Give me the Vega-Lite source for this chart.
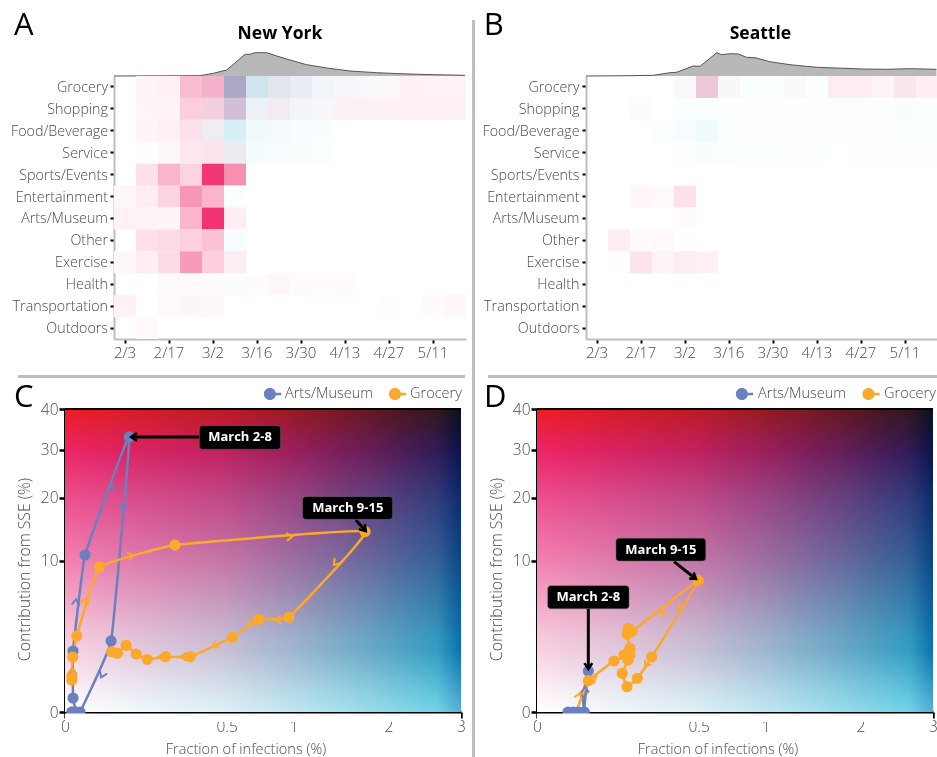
{
"$schema":"https://vega.github.io/schema/vega-lite/v6.json",
"autosize":{"type":"none"},"padding":0,"width":937,"height":757,"background":"#ffffff",
"config":{"view":{"stroke":null},
 "axis":{"labelFont":"Open Sans","titleFont":"Open Sans","labelColor":"#4a4a4a","titleColor":"#4a4a4a","labelFontSize":15,"titleFontSize":14.6,"titleFontWeight":300,"labelFontWeight":300,"grid":false,"zindex":1,"tickColor":"#000000","labelOverlap":false,"labelFlush":false},
 "text":{"font":"Open Sans"}},
"datasets":{
"ny":[
{"place":"Grocery","week":"2/10","sse":0.055,"inf":0},{"place":"Grocery","week":"2/17","sse":0.07,"inf":0},{"place":"Grocery","week":"2/24","sse":0.31,"inf":0},{"place":"Grocery","week":"3/2","sse":0.35,"inf":0.03},{"place":"Grocery","week":"3/9","sse":0.32,"inf":0.38},{"place":"Grocery","week":"3/16","sse":0.065,"inf":0.21},{"place":"Grocery","week":"3/23","sse":0.077,"inf":0.14},{"place":"Grocery","week":"3/30","sse":0.05,"inf":0.1},{"place":"Grocery","week":"4/6","sse":0.03,"inf":0.07},{"place":"Grocery","week":"4/13","sse":0.03,"inf":0.045},{"place":"Grocery","week":"4/20","sse":0.02,"inf":0.03},{"place":"Grocery","week":"4/27","sse":0.03,"inf":0.02},{"place":"Grocery","week":"5/4","sse":0.07,"inf":0},{"place":"Grocery","week":"5/11","sse":0.06,"inf":0},{"place":"Grocery","week":"5/18","sse":0.06,"inf":0},
{"place":"Shopping","week":"2/10","sse":0.04,"inf":0},{"place":"Shopping","week":"2/17","sse":0.055,"inf":0},{"place":"Shopping","week":"2/24","sse":0.23,"inf":0},{"place":"Shopping","week":"3/2","sse":0.21,"inf":0.04},{"place":"Shopping","week":"3/9","sse":0.25,"inf":0.19},{"place":"Shopping","week":"3/16","sse":0.044,"inf":0.09},{"place":"Shopping","week":"3/23","sse":0.08,"inf":0.06},{"place":"Shopping","week":"3/30","sse":0.035,"inf":0.05},{"place":"Shopping","week":"4/6","sse":0.03,"inf":0.04},{"place":"Shopping","week":"4/13","sse":0.06,"inf":0.01},{"place":"Shopping","week":"4/20","sse":0.065,"inf":0},{"place":"Shopping","week":"4/27","sse":0.065,"inf":0},{"place":"Shopping","week":"5/4","sse":0.075,"inf":0},{"place":"Shopping","week":"5/11","sse":0.07,"inf":0},{"place":"Shopping","week":"5/18","sse":0.07,"inf":0},
{"place":"Food/Beverage","week":"2/10","sse":0.045,"inf":0},{"place":"Food/Beverage","week":"2/17","sse":0.07,"inf":0},{"place":"Food/Beverage","week":"2/24","sse":0.14,"inf":0},{"place":"Food/Beverage","week":"3/2","sse":0.07,"inf":0.07},{"place":"Food/Beverage","week":"3/9","sse":0.02,"inf":0.19},{"place":"Food/Beverage","week":"3/16","sse":0.01,"inf":0.07},{"place":"Food/Beverage","week":"3/23","sse":0.005,"inf":0.05},{"place":"Food/Beverage","week":"3/30","sse":0,"inf":0.04},{"place":"Food/Beverage","week":"4/6","sse":0,"inf":0.03},
{"place":"Service","week":"2/10","sse":0.01,"inf":0},{"place":"Service","week":"2/17","sse":0.035,"inf":0},{"place":"Service","week":"2/24","sse":0.11,"inf":0},{"place":"Service","week":"3/2","sse":0.125,"inf":0},{"place":"Service","week":"3/9","sse":0.07,"inf":0.09},{"place":"Service","week":"3/16","sse":0,"inf":0.055},{"place":"Service","week":"3/23","sse":0,"inf":0.04},{"place":"Service","week":"3/30","sse":0,"inf":0.03},{"place":"Service","week":"4/6","sse":0,"inf":0.025},
{"place":"Sports/Events","week":"2/10","sse":0.145,"inf":0},{"place":"Sports/Events","week":"2/17","sse":0.35,"inf":0},{"place":"Sports/Events","week":"2/24","sse":0.2,"inf":0},{"place":"Sports/Events","week":"3/2","sse":0.93,"inf":0},{"place":"Sports/Events","week":"3/9","sse":0.52,"inf":0},
{"place":"Entertainment","week":"2/3","sse":0.035,"inf":0},{"place":"Entertainment","week":"2/10","sse":0.08,"inf":0},{"place":"Entertainment","week":"2/17","sse":0.2,"inf":0},{"place":"Entertainment","week":"2/24","sse":0.49,"inf":0},{"place":"Entertainment","week":"3/2","sse":0.35,"inf":0},{"place":"Entertainment","week":"3/9","sse":0,"inf":0.02},
{"place":"Arts/Museum","week":"2/3","sse":0.06,"inf":0},{"place":"Arts/Museum","week":"2/10","sse":0.055,"inf":0},{"place":"Arts/Museum","week":"2/17","sse":0.045,"inf":0},{"place":"Arts/Museum","week":"2/24","sse":0.35,"inf":0},{"place":"Arts/Museum","week":"3/2","sse":0.95,"inf":0},{"place":"Arts/Museum","week":"3/9","sse":0.08,"inf":0},
{"place":"Other","week":"2/10","sse":0.145,"inf":0},{"place":"Other","week":"2/17","sse":0.17,"inf":0},{"place":"Other","week":"2/24","sse":0.22,"inf":0},{"place":"Other","week":"3/2","sse":0.29,"inf":0},{"place":"Other","week":"3/9","sse":0,"inf":0.04},
{"place":"Exercise","week":"2/3","sse":0.04,"inf":0},{"place":"Exercise","week":"2/10","sse":0.08,"inf":0},{"place":"Exercise","week":"2/17","sse":0.17,"inf":0},{"place":"Exercise","week":"2/24","sse":0.465,"inf":0},{"place":"Exercise","week":"3/2","sse":0.23,"inf":0},{"place":"Exercise","week":"3/9","sse":0.08,"inf":0.02},
{"place":"Health","week":"2/17","sse":0.03,"inf":0},{"place":"Health","week":"2/24","sse":0.03,"inf":0},{"place":"Health","week":"3/2","sse":0.02,"inf":0.005},{"place":"Health","week":"3/9","sse":0,"inf":0.03},{"place":"Health","week":"3/16","sse":0.02,"inf":0},{"place":"Health","week":"3/23","sse":0.035,"inf":0},{"place":"Health","week":"3/30","sse":0.025,"inf":0},{"place":"Health","week":"4/6","sse":0.02,"inf":0},{"place":"Health","week":"4/13","sse":0.025,"inf":0},
{"place":"Transportation","week":"2/3","sse":0.06,"inf":0},{"place":"Transportation","week":"2/17","sse":0.03,"inf":0},{"place":"Transportation","week":"2/24","sse":0.045,"inf":0},{"place":"Transportation","week":"3/2","sse":0.035,"inf":0},{"place":"Transportation","week":"4/27","sse":0.012,"inf":0},{"place":"Transportation","week":"5/11","sse":0.02,"inf":0},{"place":"Transportation","week":"5/18","sse":0.04,"inf":0},
{"place":"Outdoors","week":"2/10","sse":0.03,"inf":0}],
"sea":[
{"place":"Grocery","week":"3/2","sse":0.03,"inf":0.02},{"place":"Grocery","week":"3/9","sse":0.24,"inf":0.08},{"place":"Grocery","week":"3/16","sse":0.03,"inf":0.03},{"place":"Grocery","week":"3/23","sse":0,"inf":0.02},{"place":"Grocery","week":"3/30","sse":0,"inf":0.02},{"place":"Grocery","week":"4/6","sse":0.03,"inf":0.02},{"place":"Grocery","week":"4/13","sse":0,"inf":0.01},{"place":"Grocery","week":"4/20","sse":0.09,"inf":0},{"place":"Grocery","week":"4/27","sse":0.09,"inf":0},{"place":"Grocery","week":"5/4","sse":0.05,"inf":0.01},{"place":"Grocery","week":"5/11","sse":0.11,"inf":0.02},{"place":"Grocery","week":"5/18","sse":0.08,"inf":0},
{"place":"Shopping","week":"2/17","sse":0.025,"inf":0},{"place":"Shopping","week":"3/2","sse":0,"inf":0.02},{"place":"Shopping","week":"3/9","sse":0,"inf":0.025},{"place":"Shopping","week":"3/16","sse":0,"inf":0.015},{"place":"Shopping","week":"3/23","sse":0,"inf":0.015},{"place":"Shopping","week":"3/30","sse":0,"inf":0.015},{"place":"Shopping","week":"4/6","sse":0,"inf":0.015},{"place":"Shopping","week":"4/13","sse":0,"inf":0.015},{"place":"Shopping","week":"4/20","sse":0,"inf":0.015},{"place":"Shopping","week":"4/27","sse":0,"inf":0.015},{"place":"Shopping","week":"5/4","sse":0,"inf":0.015},{"place":"Shopping","week":"5/11","sse":0.01,"inf":0.025},{"place":"Shopping","week":"5/18","sse":0,"inf":0.02},
{"place":"Food/Beverage","week":"2/24","sse":0,"inf":0.02},{"place":"Food/Beverage","week":"3/2","sse":0,"inf":0.04},{"place":"Food/Beverage","week":"3/9","sse":0,"inf":0.07},{"place":"Food/Beverage","week":"3/16","sse":0,"inf":0.02},{"place":"Food/Beverage","week":"3/23","sse":0,"inf":0.015},{"place":"Food/Beverage","week":"3/30","sse":0,"inf":0.015},{"place":"Food/Beverage","week":"4/6","sse":0,"inf":0.015},{"place":"Food/Beverage","week":"4/13","sse":0,"inf":0.015},{"place":"Food/Beverage","week":"4/20","sse":0,"inf":0.015},{"place":"Food/Beverage","week":"4/27","sse":0,"inf":0.015},{"place":"Food/Beverage","week":"5/4","sse":0,"inf":0.015},{"place":"Food/Beverage","week":"5/11","sse":0,"inf":0.025},{"place":"Food/Beverage","week":"5/18","sse":0,"inf":0.025},
{"place":"Service","week":"3/2","sse":0,"inf":0.015},{"place":"Service","week":"3/9","sse":0,"inf":0.035},{"place":"Service","week":"3/16","sse":0,"inf":0.025},{"place":"Service","week":"3/23","sse":0,"inf":0.02},{"place":"Service","week":"3/30","sse":0,"inf":0.02},{"place":"Service","week":"4/6","sse":0,"inf":0.015},{"place":"Service","week":"4/13","sse":0,"inf":0.015},{"place":"Service","week":"4/27","sse":0,"inf":0.015},{"place":"Service","week":"5/4","sse":0,"inf":0.01},{"place":"Service","week":"5/11","sse":0,"inf":0.01},{"place":"Service","week":"5/18","sse":0,"inf":0.01},
{"place":"Entertainment","week":"2/17","sse":0.04,"inf":0},{"place":"Entertainment","week":"2/24","sse":0.03,"inf":0},{"place":"Entertainment","week":"3/2","sse":0.14,"inf":0},
{"place":"Arts/Museum","week":"3/2","sse":0.02,"inf":0},
{"place":"Other","week":"2/10","sse":0.08,"inf":0},{"place":"Other","week":"2/17","sse":0.025,"inf":0},{"place":"Other","week":"2/24","sse":0.03,"inf":0},{"place":"Other","week":"3/2","sse":0,"inf":0.01},
{"place":"Exercise","week":"2/10","sse":0.015,"inf":0},{"place":"Exercise","week":"2/17","sse":0.125,"inf":0},{"place":"Exercise","week":"2/24","sse":0.05,"inf":0},{"place":"Exercise","week":"3/2","sse":0.08,"inf":0.015},{"place":"Exercise","week":"3/9","sse":0.07,"inf":0},
{"place":"Health","week":"3/9","sse":0,"inf":0.005},{"place":"Health","week":"5/11","sse":0,"inf":0.005},{"place":"Health","week":"5/18","sse":0,"inf":0.005}],
"nyCurve":[{"day":-3.5,"value":0},{"day":23.9,"value":0.3},{"day":28.1,"value":2.7},{"day":32.3,"value":6},{"day":34.5,"value":11.7},{"day":38.2,"value":21.7},{"day":39.8,"value":21.7},{"day":41.4,"value":23.3},{"day":45.1,"value":23.3},{"day":48.3,"value":20},{"day":52.5,"value":16},{"day":57.8,"value":11.3},{"day":64.2,"value":8},{"day":71.6,"value":5},{"day":80,"value":3.3},{"day":87.5,"value":2.3},{"day":98.1,"value":1.3},{"day":108.2,"value":0.7}],
"seaCurve":[{"day":-3.5,"value":0},{"day":10.5,"value":0.3},{"day":18,"value":0.7},{"day":23.2,"value":3.3},{"day":25.3,"value":3.7},{"day":30.6,"value":10},{"day":32.8,"value":9.7},{"day":38.1,"value":23.3},{"day":39.7,"value":21.3},{"day":42.3,"value":22.3},{"day":45,"value":22},{"day":47.6,"value":18.7},{"day":50.3,"value":18.3},{"day":55,"value":14.3},{"day":61.4,"value":11.3},{"day":69.9,"value":8.7},{"day":76.2,"value":8},{"day":84.7,"value":7},{"day":92.1,"value":6.7},{"day":99.5,"value":7.3},{"day":108,"value":6.7}],
"nyPath":[
{"series":"Arts/Museum","t":1,"frac":0.00094,"pct":0},{"series":"Arts/Museum","t":2,"frac":0.0023,"pct":0},{"series":"Arts/Museum","t":3,"frac":0.00123,"pct":0.085},{"series":"Arts/Museum","t":4,"frac":0.00123,"pct":1.62},{"series":"Arts/Museum","t":5,"frac":0.0077,"pct":10.74},{"series":"Arts/Museum","t":6,"frac":0.0788,"pct":32.96},{"series":"Arts/Museum","t":7,"frac":0.0407,"pct":2.2},{"series":"Arts/Museum","t":8,"frac":0.0043,"pct":0},{"series":"Arts/Museum","t":9,"frac":0.0023,"pct":0},{"series":"Arts/Museum","t":10,"frac":0.00094,"pct":0},
{"series":"Grocery","t":1,"frac":0.00086,"pct":0.446},{"series":"Grocery","t":2,"frac":0.00086,"pct":0.565},{"series":"Grocery","t":3,"frac":0.00114,"pct":1.318},{"series":"Grocery","t":4,"frac":0.00263,"pct":2.517},{"series":"Grocery","t":5,"frac":0.0226,"pct":9.16},{"series":"Grocery","t":6,"frac":0.2315,"pct":12.16},{"series":"Grocery","t":7,"frac":1.723,"pct":14.17},{"series":"Grocery","t":8,"frac":0.959,"pct":3.91},{"series":"Grocery","t":9,"frac":0.7165,"pct":3.745},{"series":"Grocery","t":10,"frac":0.5346,"pct":2.432},{"series":"Grocery","t":11,"frac":0.3006,"pct":1.333},{"series":"Grocery","t":12,"frac":0.1935,"pct":1.333},{"series":"Grocery","t":13,"frac":0.1293,"pct":1.21},{"series":"Grocery","t":14,"frac":0.097,"pct":1.466},{"series":"Grocery","t":15,"frac":0.0716,"pct":1.939},{"series":"Grocery","t":16,"frac":0.0526,"pct":1.502},{"series":"Grocery","t":17,"frac":0.042,"pct":1.585}],
"seaPath":[
{"series":"Arts/Museum","t":1,"frac":0.0184,"pct":0},{"series":"Arts/Museum","t":2,"frac":0.0248,"pct":0},{"series":"Arts/Museum","t":3,"frac":0.0322,"pct":0},{"series":"Arts/Museum","t":4,"frac":0.0423,"pct":0},{"series":"Arts/Museum","t":5,"frac":0.0405,"pct":0.063,"dot":false},{"series":"Arts/Museum","t":6,"frac":0.0441,"pct":0.318,"dot":false},{"series":"Arts/Museum","t":7,"frac":0.0504,"pct":0.733},{"series":"Arts/Museum","t":8,"frac":0.0459,"pct":0.211,"dot":false},{"series":"Arts/Museum","t":9,"frac":0.0423,"pct":0},
{"series":"Grocery","t":1,"frac":0.0322,"pct":0.0122,"dot":false},{"series":"Grocery","t":2,"frac":0.0504,"pct":0.427},{"series":"Grocery","t":3,"frac":0.1135,"pct":1.134},{"series":"Grocery","t":4,"frac":0.1655,"pct":1.416},{"series":"Grocery","t":5,"frac":0.1655,"pct":1.768},{"series":"Grocery","t":6,"frac":0.155,"pct":2.652},{"series":"Grocery","t":7,"frac":0.1595,"pct":3.053},{"series":"Grocery","t":8,"frac":0.1716,"pct":2.81},{"series":"Grocery","t":9,"frac":0.4979,"pct":7.514},{"series":"Grocery","t":10,"frac":0.2518,"pct":1.318},{"series":"Grocery","t":11,"frac":0.1925,"pct":0.495},{"series":"Grocery","t":12,"frac":0.155,"pct":0.279},{"series":"Grocery","t":13,"frac":0.1392,"pct":0.653},{"series":"Grocery","t":14,"frac":0.1585,"pct":1.178},{"series":"Grocery","t":15,"frac":0.1448,"pct":1.416}],
"nyArrows":[
{"series":"Arts/Museum","frac":0.0438,"pct":22.46,"heading":20},{"series":"Arts/Museum","frac":0.0632,"pct":17.78,"heading":185},{"series":"Arts/Museum","frac":0.00233,"pct":5.54,"heading":5},{"series":"Arts/Museum","frac":0.0249,"pct":0.525,"heading":205},{"series":"Arts/Museum","frac":0.00103,"pct":0.844,"heading":0},
{"series":"Grocery","frac":0.9886,"pct":13.39,"heading":87},{"series":"Grocery","frac":0.0897,"pct":10.74,"heading":74},{"series":"Grocery","frac":0.00848,"pct":5.66,"heading":12},{"series":"Grocery","frac":1.382,"pct":9.42,"heading":221},{"series":"Grocery","frac":0.848,"pct":3.69,"heading":265},{"series":"Grocery","frac":0.644,"pct":3.3,"heading":236},{"series":"Grocery","frac":0.414,"pct":1.858,"heading":246},{"series":"Grocery","frac":0.2544,"pct":1.333,"heading":270},{"series":"Grocery","frac":0.1664,"pct":1.318,"heading":270},{"series":"Grocery","frac":0.00094,"pct":0.844,"heading":0}],
"seaArrows":[
{"series":"Arts/Museum","frac":0.0441,"pct":0.279,"heading":0},{"series":"Arts/Museum","frac":0.041,"pct":0.085,"heading":180},
{"series":"Grocery","frac":0.3135,"pct":4.385,"heading":53},{"series":"Grocery","frac":0.3858,"pct":4.597,"heading":211},{"series":"Grocery","frac":0.2232,"pct":0.894,"heading":215},{"series":"Grocery","frac":0.0666,"pct":0.543,"heading":52},{"series":"Grocery","frac":0.0354,"pct":0.152,"heading":22}],
"nyNotes":[
{"label":"March 2-8","frac":0.3454,"frac2":0.889,"pct":30.08,"pct2":35.73,"textFrac":0.5858,"textPct":32.84,"fromFrac":0.3454,"fromPct":32.96,"toFrac":0.0838,"toPct":32.96,"heading":270},
{"label":"March 9-15","frac":1.0805,"frac2":2.053,"pct":16.18,"pct2":20.2,"textFrac":1.53,"textPct":18.14,"fromFrac":1.618,"fromPct":16.07,"toFrac":1.731,"toPct":14.28,"heading":138}],
"seaNotes":[
{"label":"March 2-8","frac":0.0022,"frac2":0.162,"pct":4.65,"pct2":6.95,"textFrac":0.0504,"textPct":5.76,"fromFrac":0.0504,"fromPct":4.65,"toFrac":0.0504,"toPct":0.806,"heading":180},
{"label":"March 9-15","frac":0.1194,"frac2":0.5446,"pct":9.94,"pct2":13.15,"textFrac":0.2933,"textPct":11.48,"fromFrac":0.3592,"fromPct":9.85,"toFrac":0.4838,"toPct":7.71,"heading":127}],
"nyKey":[{"series":"Arts/Museum","frac":0.824,"pct":44.07,"labelFrac":0.926},{"series":"Grocery","frac":2.116,"pct":44.07,"labelFrac":2.278}],
"seaKey":[{"series":"Arts/Museum","frac":0.824,"pct":44.07,"labelFrac":0.9346},{"series":"Grocery","frac":2.135,"pct":44.07,"labelFrac":2.304}],
"plotBox":[{"frac":0,"frac2":3,"pct":0,"pct2":40}],
"topEdge":[{"frac":0,"frac2":3,"pct":40}],
"axisMask":[{"frac":0,"frac2":3,"pct":-0.001,"pct2":-0.044}]
},
"layer":[
{"encoding":{"x":{"field":"day","type":"quantitative","axis":null,"scale":{"domain":[-3.5,108.5],"range":[114,466]}},"y":{"field":"value","type":"quantitative","axis":null,"stack":null,"scale":{"domain":[0,30],"range":[76,46],"nice":false}}},
 "layer":[
 {"data":{"name":"nyCurve"},"mark":{"type":"area","color":"#b8b8b8"}},
 {"data":{"name":"nyCurve"},"mark":{"type":"line","color":"#555555","strokeWidth":1}},
 {"data":{"values":[{"day":49.3,"value":37,"label":"New York"}]},"mark":{"type":"text","fontWeight":"bold","fontSize":17.5,"color":"#000000","align":"center","baseline":"alphabetic"},"encoding":{"text":{"field":"label"}}},
 {"data":{"values":[{"day":-35.3,"value":41,"label":"A"}]},"mark":{"type":"text","fontSize":31,"color":"#000000","align":"left","baseline":"alphabetic"},"encoding":{"text":{"field":"label"}}},
 {"data":{"values":[{"day":110.9,"value":56,"value2":-681}]},"mark":{"type":"rule","color":"#bcbec0","strokeWidth":3},"encoding":{"y2":{"field":"value2"}}},
 {"data":{"values":[{"day":-34,"day2":108.2,"value":-300.5}]},"mark":{"type":"rule","color":"#bcbec0","strokeWidth":3},"encoding":{"x2":{"field":"day2"}}}
]},
{"encoding":{"x":{"field":"day","type":"quantitative","axis":null,"scale":{"domain":[-3.5,108.5],"range":[586,938]}},"y":{"field":"value","type":"quantitative","axis":null,"stack":null,"scale":{"domain":[0,30],"range":[76,46],"nice":false}}},
 "layer":[
 {"data":{"name":"seaCurve"},"mark":{"type":"area","color":"#b8b8b8"}},
 {"data":{"name":"seaCurve"},"mark":{"type":"line","color":"#555555","strokeWidth":1}},
 {"data":{"values":[{"day":52,"value":37,"label":"Seattle"}]},"mark":{"type":"text","fontWeight":"bold","fontSize":17.5,"color":"#000000","align":"center","baseline":"alphabetic"},"encoding":{"text":{"field":"label"}}},
 {"data":{"values":[{"day":-36,"value":41,"label":"B"}]},"mark":{"type":"text","fontSize":31,"color":"#000000","align":"left","baseline":"alphabetic"},"encoding":{"text":{"field":"label"}}},
 {"data":{"values":[{"day":-34.7,"day2":108.7,"value":-300.5}]},"mark":{"type":"rule","color":"#bcbec0","strokeWidth":3},"encoding":{"x2":{"field":"day2"}}}
]},
{"data":{"name":"ny"},
 "encoding":{
  "x":{"field":"week","type":"ordinal","sort":null,"scale":{"domain":["2/3","2/10","2/17","2/24","3/2","3/9","3/16","3/23","3/30","4/6","4/13","4/20","4/27","5/4","5/11","5/18"],"range":[114,466],"padding":0},"axis":{"orient":"bottom","offset":-418,"values":["2/3","2/17","3/2","3/16","3/30","4/13","4/27","5/11"],"labelAngle":0,"title":null,"domainColor":"#bcbec0","domainWidth":2,"tickWidth":2,"tickSize":4,"labelPadding":2}},
  "y":{"field":"place","type":"ordinal","sort":null,"scale":{"domain":["Grocery","Shopping","Food/Beverage","Service","Sports/Events","Entertainment","Arts/Museum","Other","Exercise","Health","Transportation","Outdoors"],"range":[76,339],"padding":0},"axis":{"orient":"left","offset":-114,"title":null,"domainColor":"#bcbec0","domainWidth":2,"tickWidth":2,"tickSize":4,"labelPadding":2.5,"labelOffset":1,"labelFontSize":14.3,"labelExpr":"datum.value == 'Other' ? 'Other\u00a0\u00a0' : datum.value"}}},
 "layer":[
  {"mark":{"type":"rect"},"encoding":{"fill":{"field":"sse","type":"quantitative","legend":null,"scale":{"domain":[0,1],"range":["#ffffff","#f02869"],"interpolate":"rgb"}}}},
  {"mark":{"type":"rect","blend":"multiply","fill":"#29bfdc"},"encoding":{"opacity":{"field":"inf","type":"quantitative","legend":null,"scale":{"domain":[0,1],"range":[0,1]}}}}
 ]},
{"data":{"name":"sea"},
 "encoding":{
  "x":{"field":"week","type":"ordinal","sort":null,"scale":{"domain":["2/3","2/10","2/17","2/24","3/2","3/9","3/16","3/23","3/30","4/6","4/13","4/20","4/27","5/4","5/11","5/18"],"range":[586,938],"padding":0},"axis":{"orient":"bottom","offset":-418,"values":["2/3","2/17","3/2","3/16","3/30","4/13","4/27","5/11"],"labelAngle":0,"title":null,"domainColor":"#bcbec0","domainWidth":2,"tickWidth":2,"tickSize":4,"labelPadding":2}},
  "y":{"field":"place","type":"ordinal","sort":null,"scale":{"domain":["Grocery","Shopping","Food/Beverage","Service","Sports/Events","Entertainment","Arts/Museum","Other","Exercise","Health","Transportation","Outdoors"],"range":[76,339],"padding":0},"axis":{"orient":"left","offset":-586,"title":null,"domainColor":"#bcbec0","domainWidth":2,"tickWidth":2,"tickSize":4,"labelPadding":3,"labelOffset":1,"labelFontSize":14.3}}},
 "layer":[
  {"mark":{"type":"rect"},"encoding":{"fill":{"field":"sse","type":"quantitative","legend":null,"scale":{"domain":[0,1],"range":["#ffffff","#f02869"],"interpolate":"rgb"}}}},
  {"mark":{"type":"rect","blend":"multiply","fill":"#29bfdc"},"encoding":{"opacity":{"field":"inf","type":"quantitative","legend":null,"scale":{"domain":[0,1],"range":[0,1]}}}}
 ]},
{"encoding":{
  "x":{"field":"frac","type":"quantitative","scale":{"type":"sqrt","domain":[0,3],"range":[65,461],"nice":false},"axis":{"orient":"bottom","offset":-45,"values":[0,0.5,1,2,3],"format":"~g","title":"Fraction of infections (%)","titleX":245.5,"domainColor":"#000000","domainWidth":3,"tickWidth":2.5,"tickSize":6,"labelPadding":1,"labelFontSize":15.5,"titlePadding":7}},
  "y":{"field":"pct","type":"quantitative","scale":{"type":"sqrt","domain":[0,40],"range":[712,409],"nice":false},"axis":{"orient":"left","offset":-65,"values":[0,10,20,30,40],"title":"Contribution from SSE (%)","titleY":569,"titleFontSize":15.8,"domainColor":"#000000","domainWidth":3,"tickWidth":2.5,"tickSize":6,"labelPadding":1,"labelFontSize":15.5,"titlePadding":8}}},
 "layer":[
  {"data":{"name":"plotBox"},"mark":{"type":"rect","fill":{"gradient":"linear","x1":0,"y1":0,"x2":0,"y2":1,"stops":[{"offset":0,"color":"#ed1c24"},{"offset":0.14,"color":"#ee2465"},{"offset":0.3,"color":"#ef5090"},{"offset":0.5,"color":"#f480b0"},{"offset":0.75,"color":"#f9c8dc"},{"offset":0.87,"color":"#fcdfeb"},{"offset":1,"color":"#ffffff"}]}},"encoding":{"x2":{"field":"frac2"},"y2":{"field":"pct2"}}},
  {"data":{"name":"plotBox"},"mark":{"type":"rect","blend":"multiply","fill":{"gradient":"linear","x1":0,"y1":0,"x2":1,"y2":0,"stops":[{"offset":0,"color":"#ffffff"},{"offset":0.4,"color":"#cdebf2"},{"offset":0.57,"color":"#a5deeb"},{"offset":0.77,"color":"#6ccfe2"},{"offset":0.94,"color":"#35c0dc"},{"offset":1,"color":"#0a8cc4"}]}},"encoding":{"x2":{"field":"frac2"},"y2":{"field":"pct2"}}},
  {"data":{"name":"plotBox"},"mark":{"type":"rect","fill":{"gradient":"linear","x1":0,"y1":0,"x2":0,"y2":1,"stops":[{"offset":0,"color":"rgba(255,255,255,0)"},{"offset":0.8,"color":"rgba(255,255,255,0)"},{"offset":1,"color":"rgba(255,255,255,0.3)"}]}},"encoding":{"x2":{"field":"frac2"},"y2":{"field":"pct2"}}},
  {"data":{"name":"nyPath"},"mark":{"type":"line","interpolate":"cardinal","tension":0.75,"strokeWidth":2.5},"encoding":{"stroke":{"field":"series","type":"nominal","legend":null,"scale":{"domain":["Arts/Museum","Grocery"],"range":["#6a80c0","#fca82a"]}},"order":{"field":"t"}}},
  {"data":{"name":"nyPath"},"mark":{"type":"point","filled":true,"size":125,"opacity":1},"encoding":{"fill":{"field":"series","type":"nominal","legend":null,"scale":{"domain":["Arts/Museum","Grocery"],"range":["#6a80c0","#fca82a"]}}}},
  {"data":{"name":"nyArrows"},"mark":{"type":"point","shape":"M-0.6,0.9L0,0L0.6,0.9","filled":false,"size":170,"opacity":1,"strokeWidth":2},"encoding":{"stroke":{"field":"series","type":"nominal","legend":null},"angle":{"field":"heading","type":"quantitative","scale":null}}},
  {"data":{"name":"axisMask"},"mark":{"type":"rect","color":"#ffffff"},"encoding":{"x2":{"field":"frac2"},"y2":{"field":"pct2"}}},
  {"data":{"name":"topEdge"},"mark":{"type":"rule","color":"#000000","strokeWidth":2},"encoding":{"x2":{"field":"frac2"}}},
  {"data":{"name":"nyNotes"},"mark":{"type":"rule","color":"#000000","strokeWidth":3},"encoding":{"x":{"field":"fromFrac","type":"quantitative"},"y":{"field":"fromPct","type":"quantitative"},"x2":{"field":"toFrac"},"y2":{"field":"toPct"}}},
  {"data":{"name":"nyNotes"},"mark":{"type":"point","shape":"M-0.6,0.9L0,0L0.6,0.9","filled":false,"size":170,"opacity":1,"strokeWidth":2.5,"color":"#000000"},"encoding":{"x":{"field":"toFrac","type":"quantitative"},"y":{"field":"toPct","type":"quantitative"},"angle":{"field":"heading","type":"quantitative","scale":null}}},
  {"data":{"name":"nyNotes"},"mark":{"type":"rect","color":"#000000","cornerRadius":3,"stroke":"#666666","strokeWidth":0.5},"encoding":{"x2":{"field":"frac2"},"y2":{"field":"pct2"}}},
  {"data":{"name":"nyNotes"},"mark":{"type":"text","color":"#ffffff","fontWeight":"bold","fontSize":13,"align":"center","baseline":"middle"},"encoding":{"x":{"field":"textFrac","type":"quantitative"},"y":{"field":"textPct","type":"quantitative"},"text":{"field":"label"}}},
  {"data":{"name":"nyKey"},"mark":{"type":"point","shape":"M-1,0A0.7,0.7 0 1,1 0.4,0A0.7,0.7 0 1,1 -1,0Z M0.3,-0.14H1V0.14H0.3Z","filled":true,"size":300,"opacity":1,"strokeWidth":0},"encoding":{"fill":{"field":"series","type":"nominal","legend":null}}},
  {"data":{"name":"nyKey"},"mark":{"type":"text","fontSize":14.5,"fontWeight":300,"color":"#4a4a4a","align":"left","baseline":"middle"},"encoding":{"x":{"field":"labelFrac","type":"quantitative"},"text":{"field":"series"}}},
  {"data":{"values":[{"frac":-0.0498,"pct":40.5,"label":"C"}]},"mark":{"type":"text","fontSize":31,"color":"#000000","align":"left","baseline":"alphabetic"},"encoding":{"text":{"field":"label"}}}
 ]},
{"encoding":{
  "x":{"field":"frac","type":"quantitative","scale":{"type":"sqrt","domain":[0,3],"range":[537,933],"nice":false},"axis":{"orient":"bottom","offset":-45,"values":[0,0.5,1,2,3],"format":"~g","title":"Fraction of infections (%)","titleX":717.5,"domainColor":"#000000","domainWidth":3,"tickWidth":2.5,"tickSize":6,"labelPadding":1,"labelFontSize":15.5,"titlePadding":7}},
  "y":{"field":"pct","type":"quantitative","scale":{"type":"sqrt","domain":[0,40],"range":[712,409],"nice":false},"axis":{"orient":"left","offset":-537,"values":[0,10,20,30,40],"title":"Contribution from SSE (%)","titleY":569,"titleFontSize":15.8,"domainColor":"#000000","domainWidth":3,"tickWidth":2.5,"tickSize":6,"labelPadding":1,"labelFontSize":15.5,"titlePadding":8}}},
 "layer":[
  {"data":{"name":"plotBox"},"mark":{"type":"rect","fill":{"gradient":"linear","x1":0,"y1":0,"x2":0,"y2":1,"stops":[{"offset":0,"color":"#ed1c24"},{"offset":0.14,"color":"#ee2465"},{"offset":0.3,"color":"#ef5090"},{"offset":0.5,"color":"#f480b0"},{"offset":0.75,"color":"#f9c8dc"},{"offset":0.87,"color":"#fcdfeb"},{"offset":1,"color":"#ffffff"}]}},"encoding":{"x2":{"field":"frac2"},"y2":{"field":"pct2"}}},
  {"data":{"name":"plotBox"},"mark":{"type":"rect","blend":"multiply","fill":{"gradient":"linear","x1":0,"y1":0,"x2":1,"y2":0,"stops":[{"offset":0,"color":"#ffffff"},{"offset":0.4,"color":"#cdebf2"},{"offset":0.57,"color":"#a5deeb"},{"offset":0.77,"color":"#6ccfe2"},{"offset":0.94,"color":"#35c0dc"},{"offset":1,"color":"#0a8cc4"}]}},"encoding":{"x2":{"field":"frac2"},"y2":{"field":"pct2"}}},
  {"data":{"name":"plotBox"},"mark":{"type":"rect","fill":{"gradient":"linear","x1":0,"y1":0,"x2":0,"y2":1,"stops":[{"offset":0,"color":"rgba(255,255,255,0)"},{"offset":0.8,"color":"rgba(255,255,255,0)"},{"offset":1,"color":"rgba(255,255,255,0.3)"}]}},"encoding":{"x2":{"field":"frac2"},"y2":{"field":"pct2"}}},
  {"data":{"name":"seaPath"},"mark":{"type":"line","interpolate":"cardinal","tension":0.75,"strokeWidth":2.5},"encoding":{"stroke":{"field":"series","type":"nominal","legend":null,"scale":{"domain":["Arts/Museum","Grocery"],"range":["#6a80c0","#fca82a"]}},"order":{"field":"t"}}},
  {"data":{"name":"seaPath"},"transform":[{"filter":"datum.dot !== false"}],"mark":{"type":"point","filled":true,"size":125,"opacity":1},"encoding":{"fill":{"field":"series","type":"nominal","legend":null,"scale":{"domain":["Arts/Museum","Grocery"],"range":["#6a80c0","#fca82a"]}}}},
  {"data":{"name":"seaArrows"},"mark":{"type":"point","shape":"M-0.6,0.9L0,0L0.6,0.9","filled":false,"size":170,"opacity":1,"strokeWidth":2},"encoding":{"stroke":{"field":"series","type":"nominal","legend":null},"angle":{"field":"heading","type":"quantitative","scale":null}}},
  {"data":{"name":"axisMask"},"mark":{"type":"rect","color":"#ffffff"},"encoding":{"x2":{"field":"frac2"},"y2":{"field":"pct2"}}},
  {"data":{"name":"topEdge"},"mark":{"type":"rule","color":"#000000","strokeWidth":2},"encoding":{"x2":{"field":"frac2"}}},
  {"data":{"name":"seaNotes"},"mark":{"type":"rule","color":"#000000","strokeWidth":3},"encoding":{"x":{"field":"fromFrac","type":"quantitative"},"y":{"field":"fromPct","type":"quantitative"},"x2":{"field":"toFrac"},"y2":{"field":"toPct"}}},
  {"data":{"name":"seaNotes"},"mark":{"type":"point","shape":"M-0.6,0.9L0,0L0.6,0.9","filled":false,"size":170,"opacity":1,"strokeWidth":2.5,"color":"#000000"},"encoding":{"x":{"field":"toFrac","type":"quantitative"},"y":{"field":"toPct","type":"quantitative"},"angle":{"field":"heading","type":"quantitative","scale":null}}},
  {"data":{"name":"seaNotes"},"mark":{"type":"rect","color":"#000000","cornerRadius":3,"stroke":"#666666","strokeWidth":0.5},"encoding":{"x2":{"field":"frac2"},"y2":{"field":"pct2"}}},
  {"data":{"name":"seaNotes"},"mark":{"type":"text","color":"#ffffff","fontWeight":"bold","fontSize":13,"align":"center","baseline":"middle"},"encoding":{"x":{"field":"textFrac","type":"quantitative"},"y":{"field":"textPct","type":"quantitative"},"text":{"field":"label"}}},
  {"data":{"name":"seaKey"},"mark":{"type":"point","shape":"M-1,0A0.7,0.7 0 1,1 0.4,0A0.7,0.7 0 1,1 -1,0Z M0.3,-0.14H1V0.14H0.3Z","filled":true,"size":300,"opacity":1,"strokeWidth":0},"encoding":{"fill":{"field":"series","type":"nominal","legend":null}}},
  {"data":{"name":"seaKey"},"mark":{"type":"text","fontSize":14.5,"fontWeight":300,"color":"#4a4a4a","align":"left","baseline":"middle"},"encoding":{"x":{"field":"labelFrac","type":"quantitative"},"text":{"field":"series"}}},
  {"data":{"values":[{"frac":-0.0537,"pct":40.5,"label":"D"}]},"mark":{"type":"text","fontSize":31,"color":"#000000","align":"left","baseline":"alphabetic"},"encoding":{"text":{"field":"label"}}}
 ]}
],
"resolve":{"scale":{"x":"independent","y":"independent","color":"independent","fill":"independent","stroke":"independent","opacity":"independent"},"axis":{"x":"independent","y":"independent"}}
}
